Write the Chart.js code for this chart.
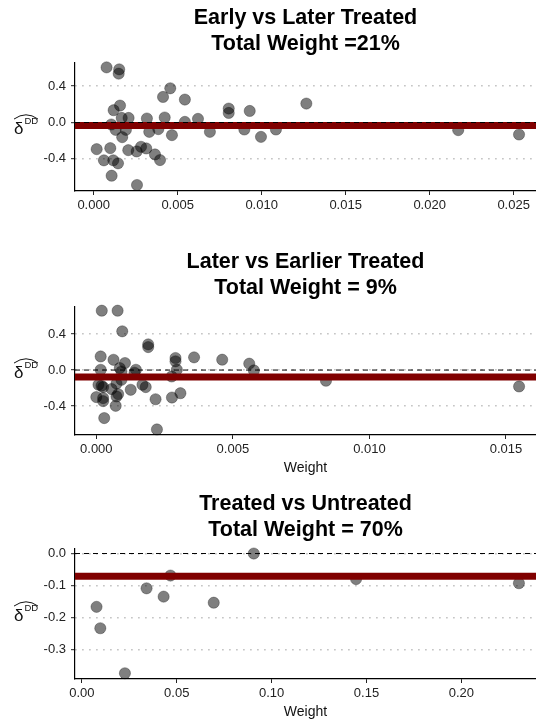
<!DOCTYPE html>
<html>
<head>
<meta charset="utf-8">
<script src="https://cdn.jsdelivr.net/npm/chart.js@4.4.1/dist/chart.umd.min.js"></script>
<style>
  html, body { margin: 0; padding: 0; background: #fff; }
  #wrap { position: relative; width: 536px; height: 721px; overflow: hidden; }
  canvas { position: absolute; left: 0; }
</style>
</head>
<body>
<div id="wrap">
  <canvas id="c1" width="536" height="215" style="top:0px"></canvas>
  <canvas id="c2" width="536" height="233" style="top:244px"></canvas>
  <canvas id="c3" width="536" height="235" style="top:486px"></canvas>
</div>
<script>
// Early vs Later Treated
const titles1 = ['Early vs Later Treated', 'Total Weight =21%'];
const xTicks1 = [0, 0.005, 0.010, 0.015, 0.020, 0.025];
const yTicks1 = [-0.4, 0.0, 0.4];
const weights1 = [0.00077, 0.00152, 0.00149, 0.00456, 0.00413, 0.00543, 0.00157, 0.00119, 0.00167, 0.00208,
  0.00317, 0.00423, 0.00543, 0.00621, 0.00105, 0.00131, 0.00192, 0.00331, 0.00385, 0.00466,
  0.0017, 0.00018, 0.00099, 0.00206, 0.00256, 0.00282, 0.00313, 0.00365, 0.00395, 0.00061,
  0.00117, 0.00145, 0.00107, 0.00258, 0.00692, 0.00804, 0.00804, 0.00929, 0.00897, 0.00996,
  0.01085, 0.01266, 0.0217, 0.02532];
const estimates1 = [0.606, 0.584, 0.537, 0.376, 0.281, 0.252, 0.186, 0.135, 0.05, 0.05,
  0.044, 0.055, 0.007, 0.04, -0.022, -0.081, -0.081, -0.103, -0.073, -0.139,
  -0.161, -0.293, -0.282, -0.304, -0.318, -0.267, -0.285, -0.351, -0.413, -0.416,
  -0.416, -0.449, -0.585, -0.687, -0.103, 0.153, 0.105, 0.127, -0.077, -0.158,
  -0.077, 0.208, -0.084, -0.132];
const avgEstimate1 = -0.033;

// Later vs Earlier Treated
const titles2 = ['Later vs Earlier Treated', 'Total Weight = 9%'];
const xTicks2 = [0, 0.005, 0.010, 0.015];
const yTicks2 = [-0.4, 0.0, 0.4];
const weights2 = [0.0002, 0.00078, 0.00095, 0.0019, 0.0019, 0.00016, 0.00063, 0.00105, 0.00086, 0.00092,
  0.00145, 0.00016, 0.0029, 0.0029, 0.00295, 0.00358, 0.00276, 0.00008, 0.00019, 0.00025,
  0.00056, 0.0008, 0.00074, 0.00126, 0.00169, 0.00181, 0.00092, 0.0, 0.00025, 0.00025,
  0.00071, 0.00029, 0.00217, 0.00222, 0.00277, 0.00308, 0.00461, 0.0056, 0.00577, 0.00841,
  0.01548, 0.0014, 0.00074];
const estimates2 = [0.659, 0.659, 0.43, 0.285, 0.255, 0.151, 0.114, 0.078, 0.022, -0.016,
  0.003, 0.003, 0.134, 0.097, 0.004, 0.141, -0.071, -0.163, -0.174, -0.189,
  -0.211, -0.267, -0.293, -0.219, -0.163, -0.189, -0.108, -0.3, -0.311, -0.345,
  -0.397, -0.533, -0.324, -0.659, -0.305, -0.257, 0.115, 0.071, -0.004, -0.119,
  -0.182, -0.03, -0.15];
const avgEstimate2 = -0.077;

// Treated vs Untreated
const titles3 = ['Treated vs Untreated', 'Total Weight = 70%'];
const xTicks3 = [0, 0.05, 0.10, 0.15, 0.20];
const yTicks3 = [-0.3, -0.2, -0.1, 0.0];
const weights3 = [0.00775, 0.00973, 0.0227, 0.0341, 0.0431, 0.0467, 0.0695, 0.0906, 0.1445, 0.2303];
const estimates3 = [-0.167, -0.234, -0.375, -0.109, -0.135, -0.069, -0.154, 0.0, -0.080, -0.093];
const avgEstimate3 = -0.071;

const FONT = '"Liberation Sans", Arial, Helvetica, sans-serif';
Chart.defaults.font.family = FONT;

// y axis title: delta-hat with DD superscript, drawn horizontally left of the axis
const deltaLabel = {
  id: 'deltaLabel',
  afterDraw(chart) {
    const { ctx, chartArea } = chart;
    const cy = (chartArea.top + chartArea.bottom) / 2;
    ctx.save();
    ctx.fillStyle = '#111';
    ctx.textBaseline = 'alphabetic';
    ctx.textAlign = 'left';
    ctx.font = '17px ' + FONT;
    ctx.fillText('δ', 14, cy + 7);
    ctx.font = '9.5px ' + FONT;
    ctx.fillText('DD', 24.5, cy - 3);
    ctx.strokeStyle = '#111';
    ctx.lineWidth = 1;
    ctx.beginPath();
    ctx.moveTo(14, cy - 7.5);
    ctx.quadraticCurveTo(26, cy - 16, 38, cy - 7.5);
    ctx.stroke();
    ctx.restore();
  }
};

function zeroPadding(s) {
  s.paddingLeft = 0; s.paddingRight = 0; s.paddingTop = 0; s.paddingBottom = 0;
}

function buildPanel(id, opts) {
  const { titles, xTicks, yTicks, weights, estimates, avg, xMin, xMax, yMin, yMax, xDec, showWeight } = opts;
  const points = weights.map((w, i) => ({ x: w, y: estimates[i] }));
  return new Chart(document.getElementById(id), {
    type: 'scatter',
    data: {
      datasets: [
        {
          type: 'line', data: [{ x: xMin, y: 0 }, { x: xMax, y: 0 }],
          borderColor: '#000', borderWidth: 1, borderDash: [5, 4], pointRadius: 0, order: 1
        },
        {
          type: 'line', data: [{ x: xMin, y: avg }, { x: xMax, y: avg }],
          borderColor: '#800000', borderWidth: 7, pointRadius: 0, order: 2
        },
        {
          data: points, order: 3, clip: false,
          pointRadius: 5.6, pointHoverRadius: 5.6,
          backgroundColor: 'rgba(0,0,0,0.5)', borderColor: 'rgba(0,0,0,0.5)', borderWidth: 0.6
        }
      ]
    },
    options: {
      responsive: false, animation: false, events: [],
      layout: { padding: 0, autoPadding: false },
      plugins: {
        legend: { display: false },
        tooltip: { enabled: false },
        title: {
          display: true, text: titles, fullSize: false, color: '#000',
          font: { size: 21.5, weight: 'bold', lineHeight: 1.2 },
          padding: { top: 5.5, bottom: 5 }
        }
      },
      scales: {
        x: {
          type: 'linear', min: xMin, max: xMax,
          afterBuildTicks: s => { s.ticks = xTicks.map(v => ({ value: v })); },
          afterFit: s => { s.height = showWeight ? 42 : 24; zeroPadding(s); },
          border: { display: true, color: '#000', width: 1.2 },
          grid: { drawOnChartArea: false, drawTicks: true, tickLength: 4, tickColor: '#222', tickWidth: 1 },
          ticks: { padding: 3, color: '#222', font: { size: 13 }, maxRotation: 0, callback: v => v.toFixed(xDec) },
          title: { display: showWeight, text: 'Weight', color: '#111', font: { size: 14 }, padding: 0 }
        },
        y: {
          type: 'linear', min: yMin, max: yMax,
          afterBuildTicks: s => { s.ticks = yTicks.map(v => ({ value: v })); },
          afterFit: s => { s.width = 75; zeroPadding(s); },
          border: { display: true, color: '#000', width: 1.2, dash: [1.4, 5.6] },
          grid: {
            color: '#b8b8b8', lineWidth: 1.4,
            tickLength: 4, tickColor: '#222', tickWidth: 1, tickBorderDash: [1, 0]
          },
          ticks: { padding: 5, color: '#222', font: { size: 13 }, callback: v => v.toFixed(1) }
        }
      }
    },
    plugins: [deltaLabel]
  });
}

buildPanel('c1', {
  titles: titles1, xTicks: xTicks1, yTicks: yTicks1, weights: weights1, estimates: estimates1, avg: avgEstimate1,
  xMin: -0.00111, xMax: 0.02633, yMin: -0.753, yMax: 0.664, xDec: 3, showWeight: false
});
buildPanel('c2', {
  titles: titles2, xTicks: xTicks2, yTicks: yTicks2, weights: weights2, estimates: estimates2, avg: avgEstimate2,
  xMin: -0.00078, xMax: 0.0161, yMin: -0.721, yMax: 0.71, xDec: 3, showWeight: true
});
buildPanel('c3', {
  titles: titles3, xTicks: xTicks3, yTicks: yTicks3, weights: weights3, estimates: estimates3, avg: avgEstimate3,
  xMin: -0.0036, xMax: 0.2393, yMin: -0.393, yMax: 0.017, xDec: 2, showWeight: true
});
</script>
</body>
</html>
